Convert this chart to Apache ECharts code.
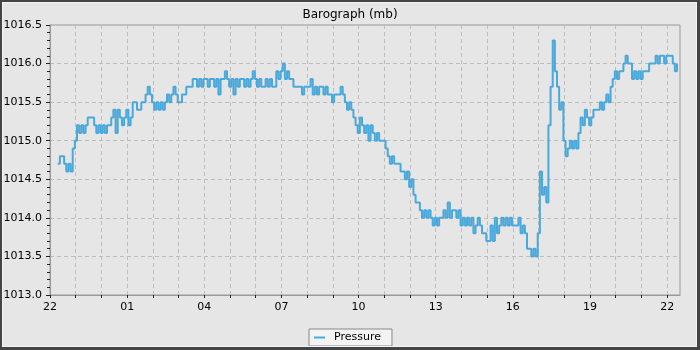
<!DOCTYPE html>
<html><head><meta charset="utf-8">
<script src="https://cdn.jsdelivr.net/npm/echarts@6/dist/echarts.min.js"></script>
<style>
html,body{margin:0;padding:0;background:#e6e6e6;}
#wrap{position:relative;width:700px;height:350px;}
#c{position:absolute;left:0;top:0;width:700px;height:350px;}
#frame{position:absolute;left:0;top:0;width:700px;height:350px;box-sizing:border-box;
  border-style:solid;border-color:#444;border-width:2px 3px 3px 2px;
  box-shadow:inset 1px 1px 0 #f4f4f4, inset -1px -1px 0 #f4f4f4;pointer-events:none;}
</style>
</head><body>
<div id="wrap"><div id="c"></div><div id="frame"></div></div>
<script>
const chartTitle = 'Barograph (mb)';
const seriesName = 'Pressure';
// readings every 5 minutes, first one 0.3 h after 22:00
const startHour = 0.3;
const stepHours = 5 / 60;
const pressure = [
 1014.7,1014.8,1014.8,1014.7,1014.6,1014.7,1014.6,1014.9,1015.0,1015.2,
 1015.1,1015.2,1015.1,1015.2,1015.3,1015.3,1015.3,1015.2,1015.1,1015.2,
 1015.1,1015.2,1015.1,1015.2,1015.2,1015.3,1015.4,1015.1,1015.4,1015.3,
 1015.2,1015.3,1015.4,1015.2,1015.3,1015.5,1015.5,1015.4,1015.4,1015.5,
 1015.5,1015.6,1015.7,1015.6,1015.5,1015.4,1015.5,1015.4,1015.5,1015.4,
 1015.5,1015.6,1015.5,1015.6,1015.7,1015.6,1015.5,1015.5,1015.6,1015.6,
 1015.7,1015.7,1015.7,1015.8,1015.8,1015.7,1015.8,1015.7,1015.8,1015.8,
 1015.7,1015.8,1015.8,1015.7,1015.8,1015.6,1015.8,1015.8,1015.9,1015.8,
 1015.7,1015.8,1015.6,1015.8,1015.7,1015.8,1015.8,1015.7,1015.8,1015.7,
 1015.8,1015.9,1015.8,1015.7,1015.8,1015.7,1015.7,1015.8,1015.7,1015.8,
 1015.7,1015.7,1015.9,1015.8,1015.9,1016.0,1015.8,1015.9,1015.8,1015.8,
 1015.7,1015.7,1015.7,1015.7,1015.6,1015.7,1015.7,1015.7,1015.8,1015.6,
 1015.7,1015.6,1015.7,1015.7,1015.6,1015.7,1015.6,1015.6,1015.5,1015.6,
 1015.6,1015.6,1015.7,1015.6,1015.5,1015.4,1015.5,1015.4,1015.3,1015.2,
 1015.1,1015.3,1015.2,1015.1,1015.2,1015.0,1015.2,1015.1,1015.0,1015.1,
 1015.0,1015.0,1015.0,1014.9,1014.8,1014.7,1014.8,1014.7,1014.7,1014.7,
 1014.6,1014.6,1014.5,1014.6,1014.4,1014.5,1014.3,1014.2,1014.2,1014.1,
 1014.0,1014.1,1014.0,1014.1,1014.0,1013.9,1014.0,1013.9,1014.0,1014.0,
 1014.1,1014.0,1014.2,1014.0,1014.1,1014.1,1014.0,1014.1,1013.9,1014.0,
 1013.9,1014.0,1013.9,1014.0,1013.8,1013.9,1014.0,1013.9,1013.8,1013.8,
 1013.7,1013.7,1013.9,1013.7,1014.0,1013.8,1013.9,1014.0,1013.9,1014.0,
 1013.9,1014.0,1013.9,1013.9,1013.9,1014.0,1013.8,1013.9,1013.8,1013.6,
 1013.6,1013.5,1013.6,1013.5,1013.8,1014.6,1014.3,1014.4,1014.2,1015.2,
 1015.7,1016.3,1015.9,1015.7,1015.4,1015.5,1015.0,1014.8,1014.9,1015.0,
 1014.9,1015.0,1014.9,1015.1,1015.3,1015.2,1015.4,1015.3,1015.2,1015.3,
 1015.4,1015.4,1015.4,1015.5,1015.4,1015.5,1015.6,1015.5,1015.7,1015.8,
 1015.9,1015.8,1015.9,1015.9,1016.0,1016.1,1016.0,1016.0,1015.8,1015.9,
 1015.8,1015.9,1015.8,1015.9,1015.9,1015.9,1016.0,1016.0,1016.0,1016.1,
 1016.0,1016.1,1016.1,1016.0,1016.1,1016.1,1016.1,1016.0,1015.9,1016.0
];
const xLabelValues = [0, 3, 6, 9, 12, 15, 18, 21, 24];
const xTickLabels = ['22', '01', '04', '07', '10', '13', '16', '19', '22'];
const hourTicks = [0,1,2,3,4,5,6,7,8,9,10,11,12,13,14,15,16,17,18,19,20,21,22,23,24];

const data = pressure.map((v, i) => [startHour + i * stepHours, v]);
const font = 'DejaVu Sans';
const chart = echarts.init(document.getElementById('c'), null, {renderer: 'canvas'});
chart.setOption({
  animation: false,
  backgroundColor: '#e6e6e6',
  title: {
    text: chartTitle, left: 'center', top: 4,
    textStyle: {fontFamily: font, fontSize: 12, fontWeight: 'normal', color: '#000'}
  },
  legend: {
    left: 309, top: 329,
    padding: [3, 11, 3, 5],
    backgroundColor: '#f3f3f3', borderColor: '#888', borderWidth: 1, borderRadius: 0,
    itemWidth: 11, itemHeight: 2, icon: 'rect',
    textStyle: {fontFamily: font, fontSize: 11, color: '#000', padding: [0, 0, 0, 4]},
    data: [seriesName]
  },
  grid: {
    left: 50, right: 20, top: 25, bottom: 55,
    show: true, backgroundColor: '#e6e6e6', borderColor: '#999', borderWidth: 1,
    outerBoundsMode: 'none'
  },
  xAxis: {
    type: 'value', min: 0, max: 24.5, interval: 3,
    axisLine: {lineStyle: {color: '#999'}},
    axisTick: {show: true, length: 3, customValues: hourTicks, lineStyle: {color: '#222'}},
    axisLabel: {
      customValues: xLabelValues, margin: 7,
      fontFamily: font, fontSize: 11, color: '#000',
      formatter: v => { const k = xLabelValues.indexOf(Math.round(v)); return k >= 0 ? xTickLabels[k] : ''; }
    },
    splitLine: {show: true, lineStyle: {color: '#bdbdbd', type: [4, 3]}}
  },
  yAxis: {
    type: 'value', min: 1013, max: 1016.5, interval: 0.5,
    axisLine: {show: true, lineStyle: {color: '#999'}},
    axisTick: {show: true, length: 4, lineStyle: {color: '#222'}},
    minorTick: {show: true, splitNumber: 5, length: 3, lineStyle: {color: '#222'}},
    axisLabel: {margin: 8, fontFamily: font, fontSize: 11, color: '#000', formatter: v => v.toFixed(1)},
    splitLine: {show: true, lineStyle: {color: '#bdbdbd', type: [4, 3]}}
  },
  series: [{
    name: seriesName, type: 'line', step: 'end', data: data,
    showSymbol: false, symbol: 'none',
    lineStyle: {color: '#4ba8db', width: 2},
    itemStyle: {color: '#4ba8db'}
  }]
});
</script>
</body></html>
